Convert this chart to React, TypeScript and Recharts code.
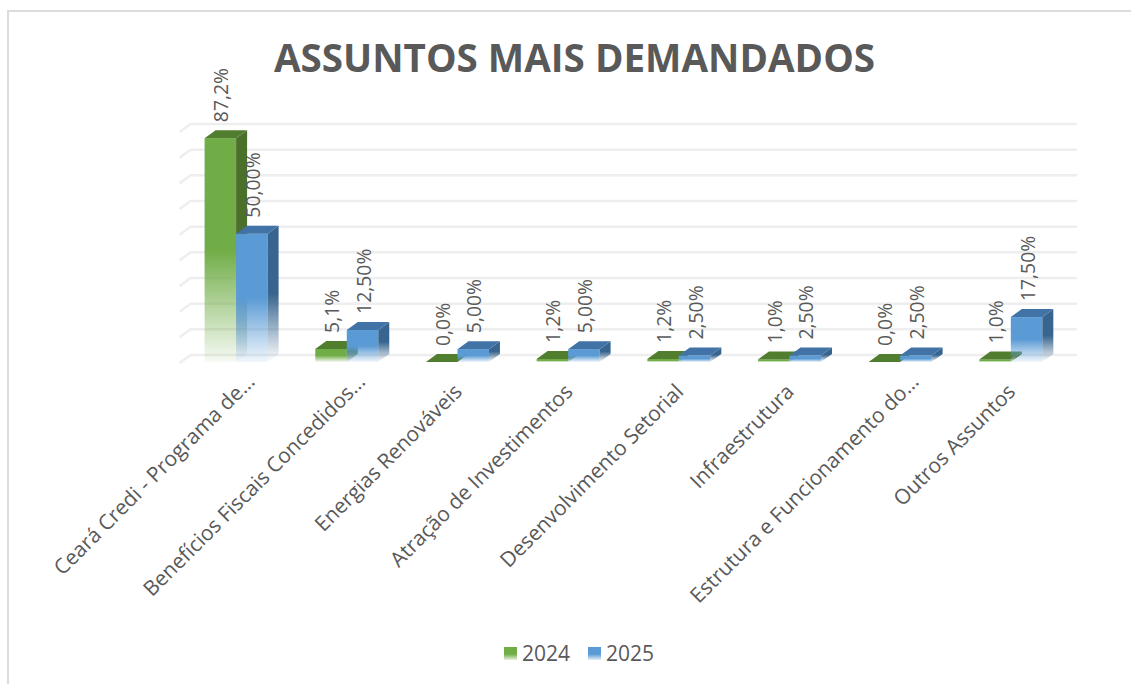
import React from 'react';
import { BarChart, Bar, XAxis, YAxis, CartesianGrid, LabelList, Legend } from 'recharts';

const categories = [
  'Ceará Credi - Programa de…',
  'Benefícios Fiscais Concedidos…',
  'Energias Renováveis',
  'Atração de Investimentos',
  'Desenvolvimento Setorial',
  'Infraestrutura',
  'Estrutura e Funcionamento do…',
  'Outros Assuntos',
];
const values2024 = [87.2, 5.1, 0, 1.2, 1.2, 1.0, 0, 1.0];
const values2025 = [50, 12.5, 5, 5, 2.5, 2.5, 2.5, 17.5];
const yTicks = [0, 10, 20, 30, 40, 50, 60, 70, 80, 90];
const data = categories.map((name, i) => ({ name, y2024: values2024[i], y2025: values2025[i] }));

const FONT = '"Open Sans", sans-serif';
const TEXT = '#595959';
const DX = 11;
const DY = 8;

const GridLine = (p: any) => {
  const y = p.y1;
  return (
    <polyline
      points={`${p.x1 - 1},${y + 1} ${p.x1 + DX - 1},${y - DY + 1} ${p.x2 + DX},${y - DY + 1}`}
      fill="none"
      stroke="#eeeeee"
      strokeWidth={2.5}
    />
  );
};

const makeBar = (id: string, top: string) => (p: any) => {
  const { x, y, width, height } = p;
  const r = x + width;
  const b = y + height;
  return (
    <g>
      {height > 0 && <rect x={x} y={y} width={width} height={height} fill={`url(#front${id})`} />}
      {height > 0 && (
        <polygon
          points={`${r},${y} ${r + DX},${y - DY} ${r + DX},${b - DY} ${r},${b}`}
          fill={`url(#side${id})`}
        />
      )}
      <polygon points={`${x},${y} ${x + DX},${y - DY} ${r + DX},${y - DY} ${r},${y}`} fill={top} />
    </g>
  );
};

const Bar2024 = makeBar('G', '#507e2e');
const Bar2025 = makeBar('B', '#4273a6');

const makeLabel = (digits: number) => (p: any) => {
  const { x, y, width, value } = p;
  const cx = x + width / 2 + 8;
  const by = y - 16;
  return (
    <text
      transform={`translate(${cx},${by}) rotate(-90)`}
      fontFamily={FONT}
      fontSize={19.4}
      fill={TEXT}
      textAnchor="start"
    >
      {`${Number(value).toFixed(digits).replace('.', ',')}%`}
    </text>
  );
};

const Tick = (p: any) => {
  const truncated = String(p.payload.value).endsWith('…');
  return (
    <text
      transform={`translate(${p.x + (truncated ? 20 : 6)},${p.y + (truncated ? 13 : 23)}) rotate(-45)`}
      fontFamily={FONT}
      fontSize={20.9}
      fill={TEXT}
      textAnchor="end"
    >
      {p.payload.value}
    </text>
  );
};

const LegendBox = () => (
  <div style={{ display: 'flex', justifyContent: 'center', fontFamily: FONT, fontSize: 21, color: TEXT, lineHeight: '26px', paddingLeft: 27 }}>
    {[
      ['2024', 'G'],
      ['2025', 'B'],
    ].map(([t, id]) => (
      <span key={t} style={{ display: 'inline-flex', alignItems: 'center', marginRight: t === '2024' ? 18 : 0 }}>
        <svg width={13} height={13} style={{ marginRight: 5 }}>
          <rect width={13} height={13} fill={id === 'G' ? 'url(#legG)' : 'url(#legB)'} />
        </svg>
        {t}
      </span>
    ))}
  </div>
);

const fade = (id: string, color: string, from: string, end: number) => (
  <linearGradient id={id} x1="0" y1="0" x2="0" y2="1">
    <stop offset="0" stopColor={color} />
    <stop offset={from} stopColor={color} />
    <stop offset="1" stopColor={color} stopOpacity={end} />
  </linearGradient>
);

export default function App() {
  return (
    <div style={{ position: 'absolute', left: 0, top: 0, width: 1131, height: 684, background: '#fff', overflow: 'hidden' }}>
      <div style={{ position: 'absolute', left: 7, top: 10, width: 1200, height: 800, border: '2px solid #dcdcdc', boxSizing: 'border-box' }} />
      <div
        style={{
          position: 'absolute',
          left: 0,
          top: 32,
          width: 1149,
          textAlign: 'center',
          fontFamily: FONT,
          fontWeight: 700,
          fontSize: 38.6,
          lineHeight: '50px',
          color: TEXT,
        }}
      >
        ASSUNTOS MAIS DEMANDADOS
      </div>
      <div style={{ position: 'absolute', left: 0, top: 0 }}>
        <BarChart
          width={1131}
          height={684}
          data={data}
          margin={{ top: 131, right: 65, bottom: 0, left: 180.6 }}
          barSize={31.5}
          barGap={0}
        >
          <defs>
            {fade('frontG', '#70ad47', '0.5', 0.06)}
            {fade('frontB', '#5b9bd5', '0.5', 0.08)}
            {fade('sideG', '#4a7029', '0.5', 0)}
            {fade('sideB', '#38658f', '0.5', 0)}
            {fade('legG', '#70ad47', '0.55', 0.15)}
            {fade('legB', '#5b9bd5', '0.55', 0.15)}
          </defs>
          <CartesianGrid vertical={false} horizontal={GridLine as any} />
          <XAxis dataKey="name" interval={0} height={292} axisLine={false} tickLine={false} tick={Tick as any} />
          <YAxis hide domain={[0, 90]} ticks={yTicks} />
          <Legend content={LegendBox as any} verticalAlign="bottom" height={30} wrapperStyle={{ bottom: 14, left: 0, width: 1131 }} />
          <Bar dataKey="y2024" name="2024" fill="#70ad47" shape={Bar2024 as any} isAnimationActive={false}>
            <LabelList dataKey="y2024" content={makeLabel(1) as any} />
          </Bar>
          <Bar dataKey="y2025" name="2025" fill="#5b9bd5" shape={Bar2025 as any} isAnimationActive={false}>
            <LabelList dataKey="y2025" content={makeLabel(2) as any} />
          </Bar>
        </BarChart>
      </div>
    </div>
  );
}
